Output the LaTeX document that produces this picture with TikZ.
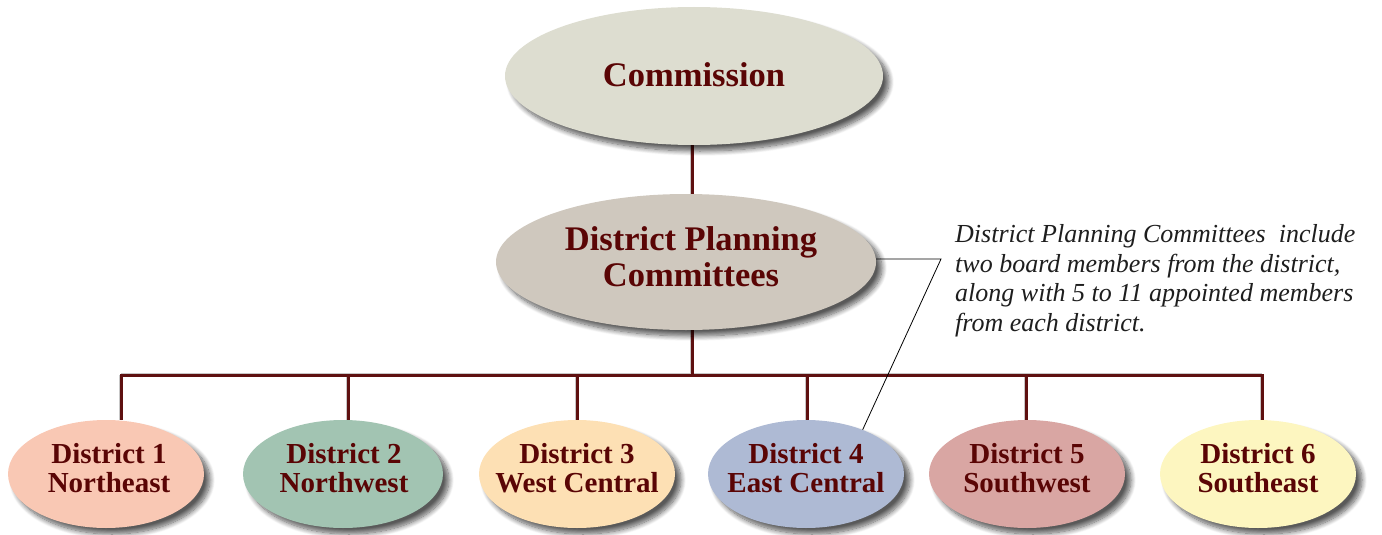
\documentclass[tikz,border=0pt]{standalone}
\usepackage{fontspec}
\setmainfont{Liberation Serif}
\usetikzlibrary{shapes.geometric,shadows.blur}
\definecolor{txtred}{HTML}{5A0505}
\definecolor{linered}{HTML}{5E1010}
\definecolor{commfill}{HTML}{DDDDD0}
\definecolor{dpcfill}{HTML}{CFC8BE}
\definecolor{dafill}{HTML}{F9C8B4}
\definecolor{dbfill}{HTML}{A2C4B2}
\definecolor{dcfill}{HTML}{FDE0B4}
\definecolor{ddfill}{HTML}{AEBAD4}
\definecolor{defill}{HTML}{D9A6A3}
\definecolor{dffill}{HTML}{FDF6C0}
\definecolor{notecol}{HTML}{1E1E1E}
\pgfdeclarelayer{bg}
\pgfsetlayers{bg,main}
\tikzset{
  oval/.style={ellipse, draw=none, inner sep=0pt,
    blur shadow={shadow xshift=6pt, shadow yshift=-6pt, shadow blur radius=5pt, shadow blur steps=10, shadow opacity=65}},
  lbl/.style={align=center, text=txtred, inner sep=0pt},
  bigtext/.style={lbl, font=\fontsize{34.5}{36}\selectfont\bfseries},
  disttext/.style={lbl, font=\fontsize{29}{29}\selectfont\bfseries, yshift=6pt},
  district/.style={oval, minimum width=196pt, minimum height=108pt},
  conn/.style={draw=linered, line width=3pt},
  connshadow/.style={draw=black!22, line width=4pt, xshift=3pt, yshift=-3pt},
  noteline/.style={draw=black, line width=0.8pt}
}
\begin{document}
\begin{tikzpicture}[x=1pt,y=-1pt]
\useasboundingbox (0,0) rectangle (1382,535);

\node[oval, fill=commfill, minimum width=378pt, minimum height=138pt,
      label={[bigtext, yshift=1pt]center:Commission}] (comm) at (694,76) {};
\node[oval, fill=dpcfill, minimum width=380pt, minimum height=136pt,
      label={[bigtext, yshift=5pt, xshift=5pt]center:{District Planning\\Committees}}] (dpc) at (686,262) {};

\node[district, fill=dafill, label={[disttext, xshift=3pt]center:{District 1\\Northeast}}] (d1) at (106,474) {};
\node[district, fill=dbfill, minimum width=200pt, label={[disttext, xshift=1pt]center:{District 2\\Northwest}}] (d2) at (343,474) {};
\node[district, fill=dcfill, label={[disttext]center:{District 3\\West Central}}] (d3) at (577,474) {};
\node[district, fill=ddfill, label={[disttext]center:{District 4\\East Central}}] (d4) at (806,474) {};
\node[district, fill=defill, label={[disttext]center:{District 5\\Southwest}}] (d5) at (1027,474) {};
\node[district, fill=dffill, label={[disttext]center:{District 6\\Southeast}}] (d6) at (1258,474) {};

\coordinate (top) at (692,150);
\coordinate (t1) at (121,375);
\coordinate (t2) at (348,375);
\coordinate (t3) at (577,375);
\coordinate (t4) at (807,375);
\coordinate (t5) at (1026,375);
\coordinate (t6) at (1262,375);
\coordinate (tm) at (692,375);

\begin{pgfonlayer}{bg}
  \draw[connshadow] (top |- comm.south) -- (top |- dpc.north);
  \draw[connshadow] (tm |- dpc.south) -- (tm);
  \draw[connshadow] (t1) -- (t6);
  \foreach \i in {1,...,6} { \draw[connshadow] (t\i) -- (t\i |- d\i.north); }
  \draw[conn] (top |- comm.south) -- (top |- dpc.north);
  \draw[conn] (tm |- dpc.south) -- (tm);
  \draw[conn, line cap=rect] (t1) -- (t6);
  \foreach \i in {1,...,6} { \draw[conn] (t\i) -- (t\i |- d\i.north); }
\end{pgfonlayer}

\coordinate (bend) at (941,259);
\draw[noteline] (dpc.east |- bend) -- (bend) -- (d4.38);

\node[anchor=base west, align=left, text=notecol, inner sep=0pt,
      font=\fontsize{26}{29.5}\selectfont\itshape] (note) at (955,331)
  {District Planning Committees~ include\\two board members from the district,\\along with 5 to 11 appointed members\\from each district.};
\end{tikzpicture}
\end{document}
